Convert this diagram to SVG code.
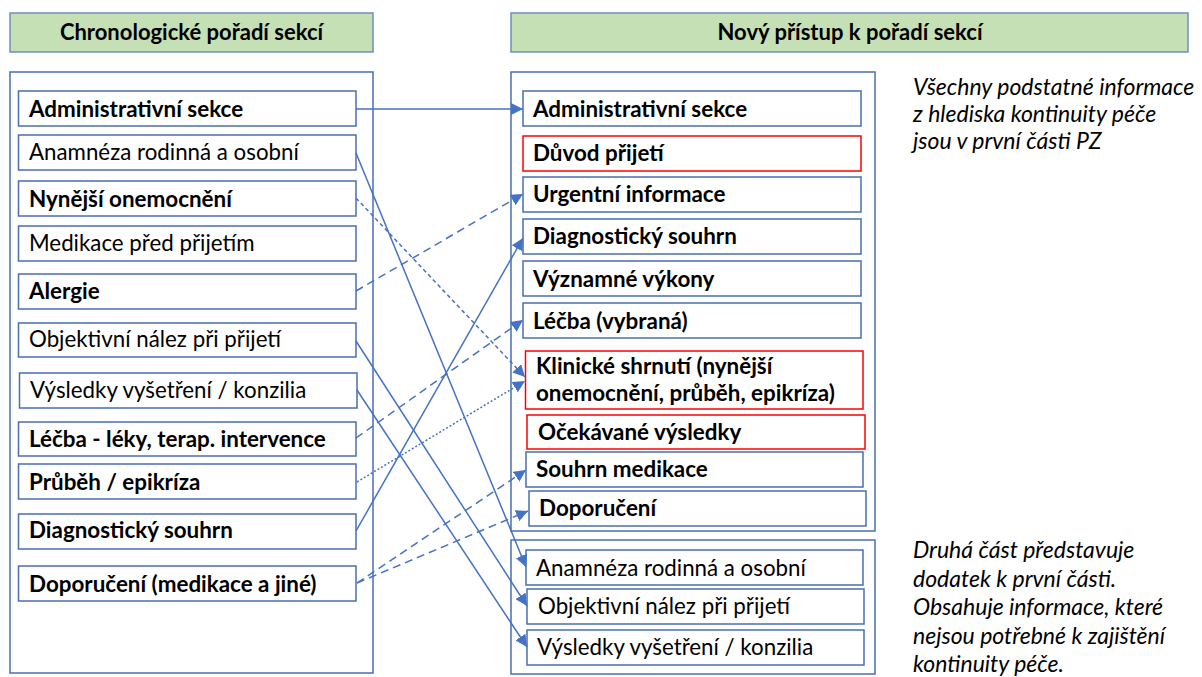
<svg xmlns="http://www.w3.org/2000/svg" width="1202" height="677" viewBox="0 0 1202 677">
<defs>
<style>
.hdr{fill:#c5e0b4;stroke:#6e8fbf;stroke-width:1.5}
.cont{fill:#fff;stroke:#4a6eb0;stroke-width:1.5}
.box{fill:#fff;stroke:#4a6eb0;stroke-width:1.5}
.red{fill:#fff;stroke:#ff0000;stroke-width:1.5}
.b{font-family:Lato,"Liberation Sans",sans-serif;font-weight:bold;font-size:22.4px;fill:#000}
.r{font-family:Lato,"Liberation Sans",sans-serif;font-size:22.3px;fill:#000}
.h{font-family:Lato,"Liberation Sans",sans-serif;font-weight:bold;font-size:22px;fill:#000;text-anchor:middle}
.i{font-family:Lato,"Liberation Sans",sans-serif;font-style:italic;font-size:23px;fill:#000}
.c{fill:none;stroke:#4472c4;stroke-width:1.5}
.d1{stroke-dasharray:8 5}
.d2{stroke-dasharray:4 3}
.d3{stroke-dasharray:2 2}
</style>
<marker id="ah" markerUnits="userSpaceOnUse" markerWidth="12" markerHeight="12" viewBox="0 0 12 12" refX="12" refY="6" orient="auto">
<path d="M0,0 L12,6 L0,12 z" fill="#4472c4"/>
</marker>
</defs>
<rect width="1202" height="677" fill="#fff"/>
<g id="hdr-left"><rect class="hdr" x="10" y="13" width="363" height="39"/><text class="h" x="191.5" y="40">Chronologické pořadí sekcí</text></g>
<g id="hdr-right"><rect class="hdr" x="511" y="13" width="677" height="39"/><text class="h" x="850" y="40">Nový přístup k pořadí sekcí</text></g>
<g id="cont-left"><rect class="cont" x="10" y="72" width="363" height="601"/></g>
<g id="cont-right1"><rect class="cont" x="511" y="72" width="364" height="459"/></g>
<g id="cont-right2"><rect class="cont" x="511" y="540" width="364" height="134"/></g>
<g id="l1"><rect class="box" x="18.5" y="91" width="337.5" height="35"/><text class="b" x="29" y="117">Administrativní sekce</text></g>
<g id="l2"><rect class="box" x="18.5" y="135" width="337.5" height="35"/><text class="r" x="29" y="160">Anamnéza rodinná a osobní</text></g>
<g id="l3"><rect class="box" x="18.5" y="181" width="337.5" height="35"/><text class="b" x="29" y="207">Nynější onemocnění</text></g>
<g id="l4"><rect class="box" x="18.5" y="226" width="337.5" height="35"/><text class="r" x="29" y="251">Medikace před přijetím</text></g>
<g id="l5"><rect class="box" x="18.5" y="274" width="337.5" height="35"/><text class="b" x="29" y="299">Alergie</text></g>
<g id="l6"><rect class="box" x="18.5" y="323" width="337.5" height="34"/><text class="r" x="29" y="347">Objektivní nález při přijetí</text></g>
<g id="l7"><rect class="box" x="19.5" y="373" width="337.5" height="35"/><text class="r" x="30" y="398">Výsledky vyšetření / konzilia</text></g>
<g id="l8"><rect class="box" x="18.5" y="422" width="337.5" height="34"/><text class="b" x="29" y="447">Léčba - léky, terap. intervence</text></g>
<g id="l9"><rect class="box" x="18.5" y="464" width="337.5" height="35"/><text class="b" x="29" y="490">Průběh / epikríza</text></g>
<g id="l10"><rect class="box" x="18.5" y="514" width="337.5" height="35"/><text class="b" x="29" y="538">Diagnostický souhrn</text></g>
<g id="l11"><rect class="box" x="18.5" y="566" width="337.5" height="35"/><text class="b" x="29" y="592">Doporučení (medikace a jiné)</text></g>
<g id="r1"><rect class="box" x="523" y="91" width="338" height="35"/><text class="b" x="533" y="117">Administrativní sekce</text></g>
<g id="r2"><rect class="red" x="523" y="136" width="338" height="35"/><text class="b" x="533" y="161">Důvod přijetí</text></g>
<g id="r3"><rect class="box" x="523" y="177" width="338" height="35"/><text class="b" x="533" y="202">Urgentní informace</text></g>
<g id="r4"><rect class="box" x="523" y="219" width="338" height="35"/><text class="b" x="533" y="244">Diagnostický souhrn</text></g>
<g id="r5"><rect class="box" x="523" y="261" width="338" height="35"/><text class="b" x="533" y="287">Významné výkony</text></g>
<g id="r6"><rect class="box" x="523" y="303" width="338" height="35"/><text class="b" x="533" y="329">Léčba (vybraná)</text></g>
<g id="r7"><rect class="red" x="525.5" y="351" width="337.5" height="58"/><text class="b" x="536" y="374">Klinické shrnutí (nynější</text><text class="b" x="536" y="401">onemocnění, průběh, epikríza)</text></g>
<g id="r8"><rect class="red" x="527" y="415" width="338" height="34"/><text class="b" x="538" y="440">Očekávané výsledky</text></g>
<g id="r9"><rect class="box" x="526" y="452" width="337" height="35"/><text class="b" x="536" y="477">Souhrn medikace</text></g>
<g id="r10"><rect class="box" x="529" y="491" width="337" height="35"/><text class="b" x="539" y="516">Doporučení</text></g>
<g id="r11"><rect class="box" x="526" y="550" width="337" height="35"/><text class="r" x="536" y="576">Anamnéza rodinná a osobní</text></g>
<g id="r12"><rect class="box" x="527" y="589" width="337" height="35"/><text class="r" x="538" y="614">Objektivní nález při přijetí</text></g>
<g id="r13"><rect class="box" x="527" y="630" width="337" height="35"/><text class="r" x="537" y="655">Výsledky vyšetření / konzilia</text></g>
<g id="note1"><text class="i" x="913" y="95">Všechny podstatné informace</text><text class="i" x="913" y="122">z hlediska kontinuity péče</text><text class="i" x="913" y="149">jsou v první části PZ</text></g>
<g id="note2"><text class="i" x="913" y="558">Druhá část představuje</text><text class="i" x="913" y="587">dodatek k první části.</text><text class="i" x="913" y="615">Obsahuje informace, které</text><text class="i" x="913" y="644">nejsou potřebné k zajištění</text><text class="i" x="913" y="672">kontinuity péče.</text></g>
<g id="connectors">
<line class="c" x1="356" y1="109" x2="523" y2="109" marker-end="url(#ah)"/>
<line class="c" x1="356" y1="153" x2="526" y2="567" marker-end="url(#ah)"/>
<line class="c d2" x1="356" y1="198" x2="525" y2="377" marker-end="url(#ah)"/>
<line class="c d1" x1="356" y1="291" x2="523" y2="194" marker-end="url(#ah)"/>
<line class="c" x1="356" y1="341" x2="527" y2="606" marker-end="url(#ah)"/>
<line class="c" x1="357" y1="390" x2="527" y2="647" marker-end="url(#ah)"/>
<line class="c d1" x1="356" y1="438" x2="523" y2="320" marker-end="url(#ah)"/>
<line class="c d3" x1="357" y1="482" x2="525" y2="381" marker-end="url(#ah)"/>
<line class="c" x1="356" y1="531" x2="523" y2="238" marker-end="url(#ah)"/>
<line class="c d1" x1="357" y1="583" x2="526" y2="470" marker-end="url(#ah)"/>
<line class="c d1" x1="357" y1="583" x2="528" y2="511" marker-end="url(#ah)"/>
</g>
</svg>
